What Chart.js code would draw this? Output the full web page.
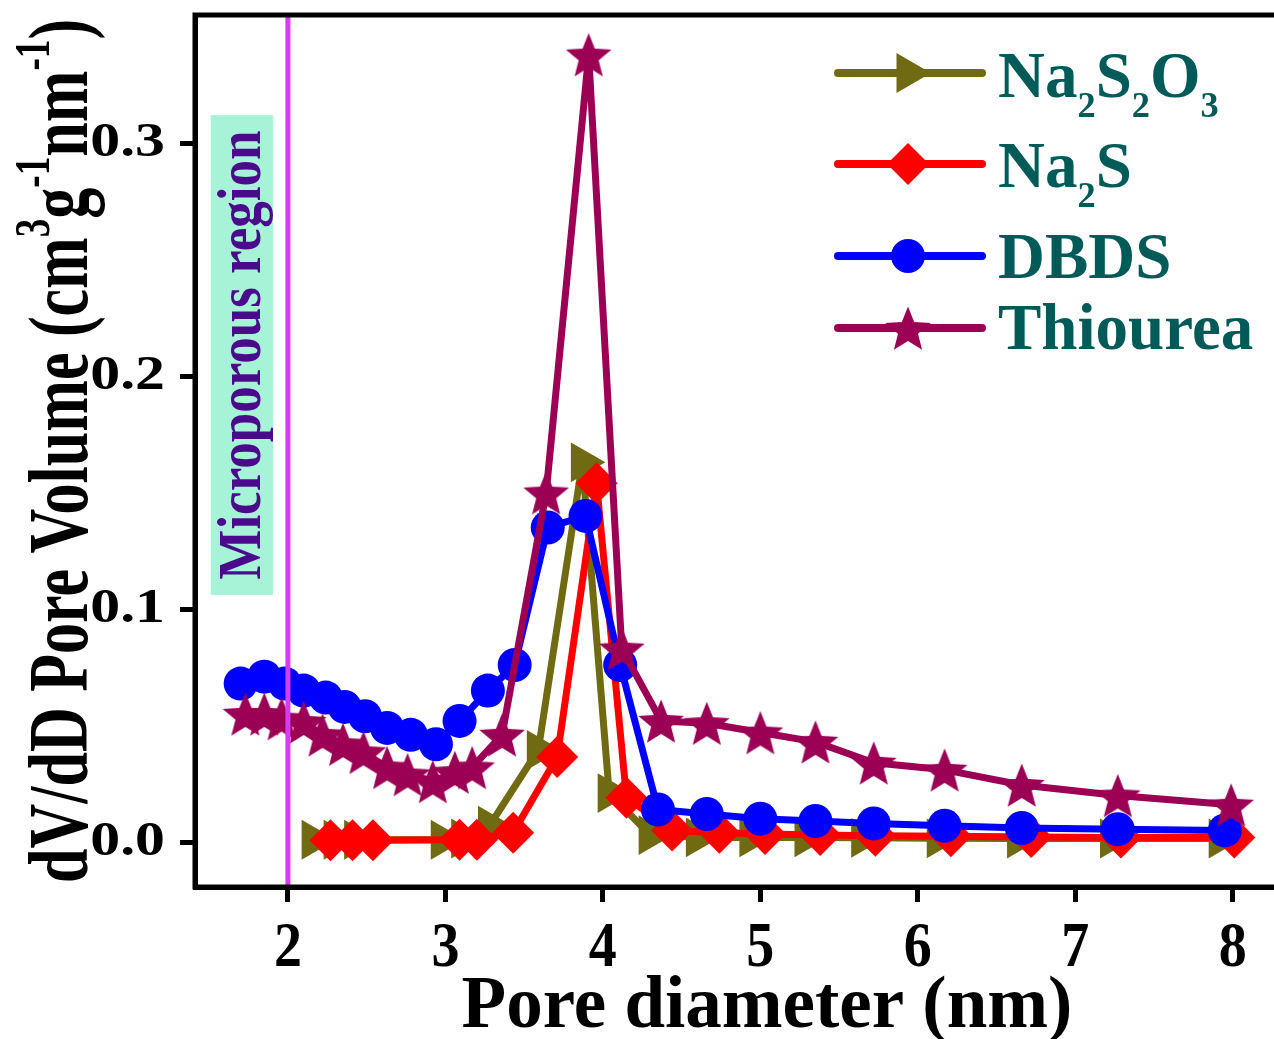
<!DOCTYPE html>
<html>
<head>
<meta charset="utf-8">
<title>Pore size distribution</title>
<script src="https://cdn.jsdelivr.net/npm/chart.js@4.4.1/dist/chart.umd.min.js"></script>
<style>
  html, body { margin: 0; padding: 0; background: #fff; overflow: hidden; }
  #wrap { width: 1284px; height: 1039px; }
</style>
</head>
<body>
<div id="wrap"><canvas id="psd" width="1284" height="1039"></canvas></div>
<script>
// BJH pore size distribution, dV/dD vs pore diameter
const seriesNames = ['Na2S2O3', 'Na2S', 'DBDS', 'Thiourea'];

const thiosulfateX = [2.16, 2.30, 2.43, 2.98, 3.11, 3.28, 3.59, 3.87, 4.04, 4.30, 4.60, 4.94, 5.29, 5.65, 6.13, 6.64, 7.23, 7.92];
const thiosulfateY = [0.001, 0.001, 0.001, 0.001, 0.0015, 0.007, 0.0395, 0.163, 0.021, 0.003, 0.002, 0.002, 0.002, 0.0018, 0.0016, 0.0015, 0.0015, 0.0015];

const sulfideX = [2.27, 2.41, 2.54, 3.09, 3.20, 3.43, 3.71, 3.96, 4.15, 4.44, 4.74, 5.03, 5.38, 5.73, 6.21, 6.72, 7.29, 8.01];
const sulfideY = [0.0008, 0.0008, 0.0008, 0.001, 0.001, 0.004, 0.0365, 0.154, 0.019, 0.005, 0.004, 0.0035, 0.003, 0.0027, 0.0025, 0.0022, 0.002, 0.002];

const dbdsX = [1.70, 1.85, 1.98, 2.10, 2.24, 2.36, 2.49, 2.63, 2.78, 2.94, 3.09, 3.27, 3.44, 3.65, 3.89, 4.11, 4.35, 4.66, 5.00, 5.35, 5.72, 6.17, 6.66, 7.27, 7.95];
const dbdsY = [0.068, 0.071, 0.068, 0.065, 0.062, 0.058, 0.054, 0.049, 0.046, 0.042, 0.052, 0.065, 0.076, 0.135, 0.140, 0.076, 0.014, 0.012, 0.010, 0.009, 0.008, 0.007, 0.006, 0.0055, 0.005];

const thioureaX = [1.73, 1.85, 1.96, 2.10, 2.22, 2.35, 2.48, 2.63, 2.76, 2.92, 3.06, 3.17, 3.36, 3.64, 3.91, 4.12, 4.37, 4.66, 5.00, 5.35, 5.72, 6.17, 6.66, 7.27, 7.99];
const thioureaY = [0.055, 0.055, 0.053, 0.0515, 0.046, 0.042, 0.0385, 0.032, 0.029, 0.026, 0.030, 0.032, 0.046, 0.150, 0.338, 0.083, 0.052, 0.051, 0.047, 0.043, 0.034, 0.031, 0.0245, 0.020, 0.016];

const xTicks = [2, 3, 4, 5, 6, 7, 8];
const xTickLabels = ['2', '3', '4', '5', '6', '7', '8'];
const yTicks = [0, 0.1, 0.2, 0.3];
const yTickLabels = ['0.0', '0.1', '0.2', '0.3'];

const microLimit = 2;  // micro / meso boundary (nm)
const microLabel = 'Microporous region';

const FONT = '"Liberation Serif", "Times New Roman", serif';
const OLIVE = '#706b12';
const RED = '#ff0000';
const BLUE = '#0000ff';
const WINE = '#9b0055';
const TEAL = '#005a58';

function pts(xs, ys) {
    return xs.map((x, i) => ({ x: x, y: ys[i] }));
}

// filled five point star used as point style
function makeStar(color, outer, inner) {
    const c = document.createElement('canvas');
    const size = Math.ceil(outer * 2 + 4);
    c.width = c.height = size;
    const g = c.getContext('2d');
    const cx = size / 2, cy = size / 2 + outer * 0.1;
    g.fillStyle = color;
    g.beginPath();
    for (let i = 0; i < 10; i++) {
        const r = i % 2 ? inner : outer;
        const a = -Math.PI / 2 + i * Math.PI / 5;
        g.lineTo(cx + r * Math.cos(a), cy + r * Math.sin(a));
    }
    g.closePath();
    g.fill();
    return c;
}

const starImg = makeStar(WINE, 24, 10.5);

const markers = [
    { color: OLIVE, style: 'triangle', radius: 23, rotation: 90 },
    { color: RED, style: 'rectRot', radius: 21, rotation: 0 },
    { color: BLUE, style: 'circle', radius: 17, rotation: 0 },
    { color: WINE, style: starImg, radius: 24, rotation: 0 }
];

function seriesDataset(i, data) {
    const m = markers[i];
    return {
        label: seriesNames[i],
        data: data,
        borderColor: m.color,
        backgroundColor: m.color,
        borderWidth: 7,
        borderJoinStyle: 'round',
        borderCapStyle: 'round',
        tension: 0,
        pointStyle: m.style,
        pointRadius: m.radius,
        pointRotation: m.rotation,
        pointBorderWidth: 0,
        pointBackgroundColor: m.color,
        order: 4 - i
    };
}

// draw text made of normal / superscript / subscript runs
function drawRich(ctx, parts, x, y, size, small, align) {
    const fonts = parts.map(p => `bold ${p[1] ? size * small : size}px ${FONT}`);
    const widths = parts.map((p, i) => { ctx.font = fonts[i]; return ctx.measureText(p[0]).width; });
    const total = widths.reduce((a, b) => a + b, 0);
    let cx = align === 'center' ? x - total / 2 : x;
    ctx.textAlign = 'left';
    ctx.textBaseline = 'alphabetic';
    parts.forEach((p, i) => {
        ctx.font = fonts[i];
        const dy = p[1] === 1 ? -size * 0.45 : (p[1] === -1 ? size * 0.3 : 0);
        ctx.fillText(p[0], cx, y + dy);
        cx += widths[i];
    });
}

// chemical formula: digits become subscripts
function formulaParts(name) {
    const out = [];
    name.split(/(\d+)/).forEach(s => { if (s) out.push([s, /\d/.test(s) ? -1 : 0]); });
    return out;
}

function drawMarker(ctx, m, x, y) {
    ctx.save();
    ctx.fillStyle = m.color;
    if (typeof m.style !== 'string') {
        ctx.drawImage(m.style, x - m.style.width / 2, y - m.style.height / 2);
    } else {
        const r = m.radius;
        ctx.beginPath();
        if (m.style === 'circle') {
            ctx.arc(x, y, r, 0, Math.PI * 2);
        } else if (m.style === 'rectRot') {
            ctx.moveTo(x - r, y); ctx.lineTo(x, y - r); ctx.lineTo(x + r, y); ctx.lineTo(x, y + r);
        } else {
            ctx.moveTo(x + r, y); ctx.lineTo(x - 0.5 * r, y + 0.866 * r); ctx.lineTo(x - 0.5 * r, y - 0.866 * r);
        }
        ctx.closePath();
        ctx.fill();
    }
    ctx.restore();
}

const decorPlugin = {
    id: 'decor',
    beforeDatasetsDraw(chart) {
        const { ctx, scales: { x, y } } = chart;
        // shaded label box on the micropore side
        const x0 = x.getPixelForValue(1.51), x1 = x.getPixelForValue(1.905);
        const y0 = y.getPixelForValue(0.312), y1 = y.getPixelForValue(0.106);
        ctx.save();
        ctx.fillStyle = '#a6f3d8';
        ctx.fillRect(x0, y0, x1 - x0, y1 - y0);
        ctx.translate((x0 + x1) / 2, (y0 + y1) / 2);
        ctx.rotate(-Math.PI / 2);
        ctx.scale(1, 1.15);
        ctx.fillStyle = '#4b0a8c';
        ctx.font = `bold 53px ${FONT}`;
        ctx.textAlign = 'center';
        ctx.textBaseline = 'middle';
        ctx.fillText(microLabel, 0, 2);
        ctx.restore();
    },
    afterDatasetsDraw(chart) {
        const { ctx, chartArea: a, scales: { x } } = chart;
        const px = x.getPixelForValue(microLimit);
        ctx.save();
        ctx.strokeStyle = '#d63cf2';
        ctx.lineWidth = 5;
        ctx.beginPath();
        ctx.moveTo(px, a.top);
        ctx.lineTo(px, a.bottom);
        ctx.stroke();
        ctx.restore();
    },
    afterDraw(chart) {
        const { ctx, chartArea: a, scales: { x, y } } = chart;
        ctx.save();
        // frame
        ctx.strokeStyle = '#000';
        ctx.lineWidth = 5;
        ctx.strokeRect(a.left, a.top, a.right - a.left, a.bottom - a.top);

        // tick labels, in the narrow-tall / wide lettering of the axes
        ctx.fillStyle = '#000';
        ctx.font = `bold 49px ${FONT}`;
        ctx.textAlign = 'right';
        ctx.textBaseline = 'middle';
        yTicks.forEach((v, i) => {
            ctx.save();
            ctx.translate(165, y.getPixelForValue(v));
            ctx.scale(1.22, 1);
            ctx.fillText(yTickLabels[i], 0, 0);
            ctx.restore();
        });
        ctx.font = `bold 56px ${FONT}`;
        ctx.textAlign = 'center';
        ctx.textBaseline = 'alphabetic';
        xTicks.forEach((v, i) => {
            ctx.save();
            ctx.translate(x.getPixelForValue(v), 966);
            ctx.scale(1, 1.13);
            ctx.fillText(xTickLabels[i], 0, 0);
            ctx.restore();
        });

        // axis titles
        drawRich(ctx, [['Pore diameter (nm)', 0]], 767, 1027, 73, 0.6, 'center');
        ctx.save();
        ctx.translate(87, (a.top + a.bottom) / 2);
        ctx.rotate(-Math.PI / 2);
        ctx.scale(1, 1.35);
        drawRich(ctx, [['dV/dD Pore Volume (cm', 0], ['3', 1], ['g', 0], ['-1', 1], ['nm', 0], ['-1', 1], [')', 0]],
            0, 0, 62, 0.6, 'center');
        ctx.restore();

        // legend
        const rows = [73, 164, 256, 328];
        const base = [97, 187, 278, 349];
        seriesNames.forEach((name, i) => {
            const m = markers[i];
            ctx.strokeStyle = m.color;
            ctx.lineWidth = 8;
            ctx.lineCap = 'round';
            ctx.beginPath();
            ctx.moveTo(838, rows[i]);
            ctx.lineTo(982, rows[i]);
            ctx.stroke();
            drawMarker(ctx, m, 908, rows[i]);
            ctx.fillStyle = TEAL;
            drawRich(ctx, formulaParts(name), 998, base[i], 65, 0.56, 'left');
        });
        ctx.restore();
    }
};

const ctx = document.getElementById('psd').getContext('2d');
const chart = new Chart(ctx, {
    type: 'line',
    data: {
        datasets: [
            seriesDataset(0, pts(thiosulfateX, thiosulfateY)),
            seriesDataset(1, pts(sulfideX, sulfideY)),
            seriesDataset(2, pts(dbdsX, dbdsY)),
            seriesDataset(3, pts(thioureaX, thioureaY))
        ]
    },
    options: {
        responsive: false,
        animation: false,
        devicePixelRatio: 1,
        events: [],
        layout: { autoPadding: false, padding: { top: 15, right: 4, left: 0, bottom: 0 } },
        plugins: {
            legend: { display: false },
            tooltip: { enabled: false }
        },
        scales: {
            x: {
                type: 'linear',
                min: 1.41,
                max: 8.3,
                afterBuildTicks: s => { s.ticks = xTicks.map(v => ({ value: v })); },
                afterFit: s => { s.height = 152; s.paddingLeft = 0; s.paddingRight = 0; },
                grid: { drawOnChartArea: false, drawTicks: true, tickLength: 15, tickWidth: 5, tickColor: '#000' },
                border: { display: true, width: 5, color: '#000' },
                ticks: { display: false }
            },
            y: {
                type: 'linear',
                min: -0.0193,
                max: 0.355,
                afterBuildTicks: s => { s.ticks = yTicks.map(v => ({ value: v })); },
                afterFit: s => { s.width = 195; s.paddingTop = 0; s.paddingBottom = 0; },
                grid: { drawOnChartArea: false, drawTicks: true, tickLength: 15, tickWidth: 5, tickColor: '#000' },
                border: { display: true, width: 5, color: '#000' },
                ticks: { display: false }
            }
        }
    },
    plugins: [decorPlugin]
});
</script>
</body>
</html>
